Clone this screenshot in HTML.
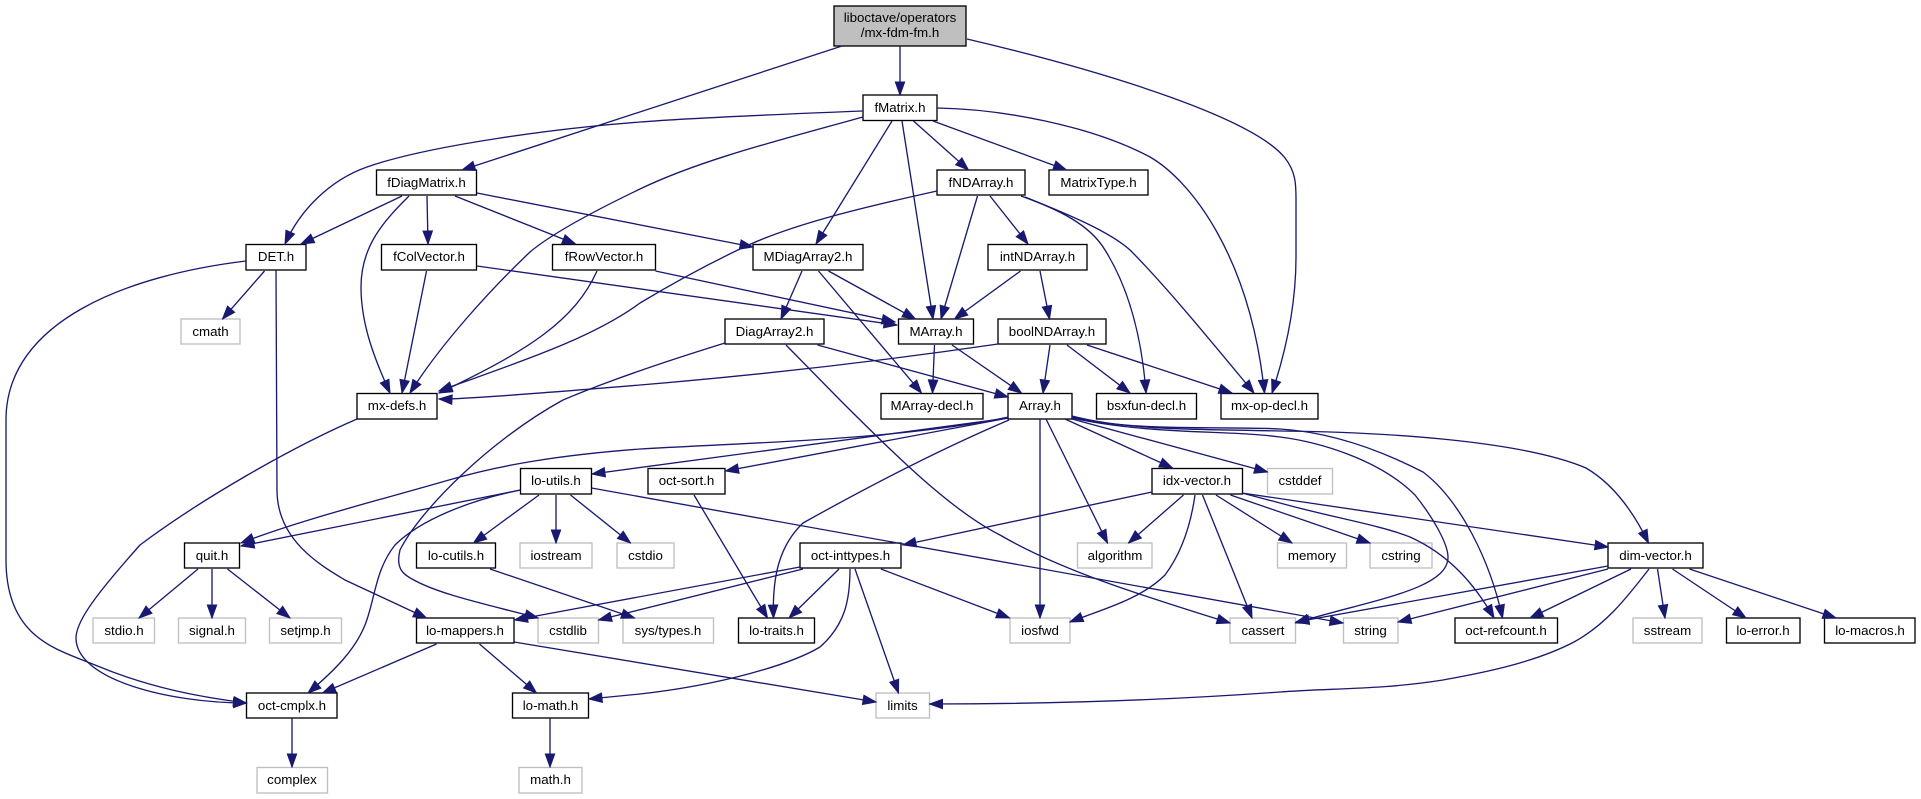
<!DOCTYPE html>
<html><head><meta charset="utf-8"><style>
html,body{margin:0;padding:0;background:#fff;width:1921px;height:799px;overflow:hidden}
svg{display:block}
text{font-family:"Liberation Sans",sans-serif;font-size:13.33px;text-anchor:middle;fill:#000}
.n rect{fill:#fff;stroke:#000;stroke-width:1.33}
.g rect{fill:#fff;stroke:#bfbfbf;stroke-width:1.33}
.e path{fill:none;stroke:#191970;stroke-width:1.33;marker-end:url(#a)}
</style></head><body>
<svg width="1921" height="799" viewBox="0 0 1921 799" xmlns="http://www.w3.org/2000/svg">
<defs><marker id="a" markerUnits="userSpaceOnUse" markerWidth="15" markerHeight="11" refX="14" refY="5.5" orient="auto"><path d="M1,0.8L14,5.5L1,10.2z" fill="#191970" stroke="#191970" stroke-width="1"/></marker></defs>
<g class="n">
<rect x="834" y="6" width="132" height="40" style="fill:#bfbfbf"/>
<text x="900" y="22">liboctave/operators</text><text x="900" y="37">/mx-fdm-fm.h</text>
<rect x="863" y="95" width="74" height="25.5"/><text x="900" y="112">fMatrix.h</text>
<rect x="376.500" y="170" width="100" height="25"/><text x="426.500" y="187">fDiagMatrix.h</text>
<rect x="937" y="170" width="88" height="25"/><text x="981" y="187">fNDArray.h</text>
<rect x="1049" y="170" width="99" height="25"/><text x="1098.500" y="187">MatrixType.h</text>
<rect x="246" y="244.500" width="60" height="25.500"/><text x="276" y="261">DET.h</text>
<rect x="381.500" y="244.500" width="95" height="25.500"/><text x="429" y="261">fColVector.h</text>
<rect x="552.500" y="244.500" width="103" height="25.500"/><text x="604" y="261">fRowVector.h</text>
<rect x="753" y="244.500" width="110" height="25.500"/><text x="808" y="261">MDiagArray2.h</text>
<rect x="988" y="244.500" width="99" height="25.500"/><text x="1037.500" y="261">intNDArray.h</text>
<rect x="725" y="319" width="99" height="25"/><text x="774.500" y="336">DiagArray2.h</text>
<rect x="898.500" y="319" width="75" height="25"/><text x="936" y="336">MArray.h</text>
<rect x="998" y="319" width="108" height="25"/><text x="1052" y="336">boolNDArray.h</text>
<rect x="357" y="393.500" width="80" height="25.500"/><text x="397" y="410">mx-defs.h</text>
<rect x="881" y="393.500" width="102" height="25.500"/><text x="932" y="410">MArray-decl.h</text>
<rect x="1008" y="393.500" width="64" height="25.500"/><text x="1040" y="410">Array.h</text>
<rect x="1096.500" y="393.500" width="100" height="25.500"/><text x="1146.500" y="410">bsxfun-decl.h</text>
<rect x="1221" y="393.500" width="97" height="25.500"/><text x="1269.500" y="410">mx-op-decl.h</text>
<rect x="520.500" y="468.500" width="71" height="25.500"/><text x="556" y="485">lo-utils.h</text>
<rect x="648" y="468.500" width="77" height="25.500"/><text x="686.500" y="485">oct-sort.h</text>
<rect x="1152" y="468.500" width="90.500" height="25.500"/><text x="1197" y="485">idx-vector.h</text>
<rect x="184.500" y="543" width="55" height="25"/><text x="212" y="560">quit.h</text>
<rect x="416.500" y="543" width="79" height="25"/><text x="456" y="560">lo-cutils.h</text>
<rect x="800" y="543" width="101" height="25"/><text x="850.500" y="560">oct-inttypes.h</text>
<rect x="1608" y="543" width="95" height="25"/><text x="1655.500" y="560">dim-vector.h</text>
<rect x="416.500" y="618" width="97.500" height="25"/><text x="465" y="635">lo-mappers.h</text>
<rect x="738.500" y="618" width="76" height="25"/><text x="776.500" y="635">lo-traits.h</text>
<rect x="1455" y="618" width="102.500" height="25"/><text x="1506" y="635">oct-refcount.h</text>
<rect x="1726.500" y="618" width="73.500" height="25"/><text x="1763" y="635">lo-error.h</text>
<rect x="1824.500" y="618" width="90.500" height="25"/><text x="1870" y="635">lo-macros.h</text>
<rect x="246.500" y="693" width="90.500" height="25"/><text x="292" y="710">oct-cmplx.h</text>
<rect x="512.500" y="693" width="76" height="25"/><text x="550.500" y="710">lo-math.h</text>
</g>
<g class="g">
<rect x="181" y="319" width="59" height="25"/><text x="210.500" y="336">cmath</text>
<rect x="1267.500" y="468.500" width="65" height="25.500"/><text x="1300" y="485">cstddef</text>
<rect x="520" y="543" width="72" height="25"/><text x="556" y="560">iostream</text>
<rect x="617" y="543" width="57" height="25"/><text x="645.500" y="560">cstdio</text>
<rect x="1077.500" y="543" width="74.500" height="25"/><text x="1115" y="560">algorithm</text>
<rect x="1277.500" y="543" width="69" height="25"/><text x="1312" y="560">memory</text>
<rect x="1370" y="543" width="62" height="25"/><text x="1401" y="560">cstring</text>
<rect x="93" y="618" width="61.500" height="25"/><text x="124" y="635">stdio.h</text>
<rect x="178.500" y="618" width="67" height="25"/><text x="212" y="635">signal.h</text>
<rect x="269.500" y="618" width="72" height="25"/><text x="305.500" y="635">setjmp.h</text>
<rect x="538" y="618" width="60.500" height="25"/><text x="568" y="635">cstdlib</text>
<rect x="623" y="618" width="90.500" height="25"/><text x="668" y="635">sys/types.h</text>
<rect x="1010" y="618" width="60" height="25"/><text x="1040" y="635">iosfwd</text>
<rect x="1230" y="618" width="65.500" height="25"/><text x="1263" y="635">cassert</text>
<rect x="1343.500" y="618" width="54.500" height="25"/><text x="1370.500" y="635">string</text>
<rect x="1633" y="618" width="69" height="25"/><text x="1667.500" y="635">sstream</text>
<rect x="876" y="693" width="53.500" height="25"/><text x="902.500" y="710">limits</text>
<rect x="257" y="767.500" width="70.500" height="25.500"/><text x="292" y="784">complex</text>
<rect x="519" y="767.500" width="63" height="25.500"/><text x="550.500" y="784">math.h</text>
</g>
<g class="e">
<path d="M842,46L462,170"/>
<path d="M900,46L900,95"/>
<path d="M967,39C1120,75 1255,120 1285,158C1296,172 1296,185 1296,200L1296,257C1296,300 1288,345 1272,393"/>
<path d="M863,111C760,115 690,118 640,122C560,128 430,145 367,167C330,180 300,210 285,244"/>
<path d="M863,117C780,140 700,160 640,189C590,213 550,235 530,252C490,290 440,345 410,393"/>
<path d="M892,121L816,244"/>
<path d="M902,121L933,319"/>
<path d="M913.500,121L968.500,170"/>
<path d="M933,121L1066.500,170"/>
<path d="M937,108C1000,109 1090,125 1150,157C1190,180 1250,255 1264.500,393"/>
<path d="M402,196L301,244"/>
<path d="M409,196C385,220 361,245 361,287C361,325 375,360 390,393"/>
<path d="M427,196L428,244"/>
<path d="M455,196L575.500,244"/>
<path d="M477,193L753,247"/>
<path d="M246,261C130,275 6,320 6,420L6,560C6,640 60,650 95,665C150,688 200,697 246.500,703"/>
<path d="M264.500,271L222.500,319"/>
<path d="M276,270L277,490C277,540 320,565 345,580L426.500,618"/>
<path d="M426.500,271L402,393"/>
<path d="M477,266L897,325"/>
<path d="M597,271C575,320 530,350 439,393"/>
<path d="M655.500,271L895,322"/>
<path d="M802,271L781,319"/>
<path d="M828.500,271L915.500,319"/>
<path d="M818.500,271L921.500,393"/>
<path d="M937,191C860,208 790,225 742,248C700,268 670,285 640,303C590,340 510,365 439,391"/>
<path d="M977.500,196L941,319"/>
<path d="M990,196L1028,244"/>
<path d="M1021,196C1060,210 1090,225 1105,250C1130,290 1142,340 1146,393"/>
<path d="M1025,197C1070,215 1110,232 1130,250C1165,285 1210,340 1254,393"/>
<path d="M1020.500,271L954.500,319"/>
<path d="M1040,271L1049.500,319"/>
<path d="M998,344Q820,370 640,385T439,399"/>
<path d="M1050,345L1043,393"/>
<path d="M1067,345L1130,393"/>
<path d="M1087,345L1232,393"/>
<path d="M817.500,345L1008,397"/>
<path d="M725,343C670,360 610,380 563,400C490,440 420,510 400,550C395,570 405,575 412,579C440,595 490,605 538,618"/>
<path d="M786,345L840,400C890,450 950,510 1000,535C1060,570 1140,595 1230,623"/>
<path d="M934.500,345L932.500,393"/>
<path d="M952,345L1021.500,393"/>
<path d="M357,419C290,448 200,500 140,545C100,590 76,620 76,638C76,680 170,703 246.500,703"/>
<path d="M1008.500,418L592,474"/>
<path d="M1008.500,417C900,440 740,443 640,449C560,455 500,465 449,480C380,500 300,520 241,543"/>
<path d="M1008.500,418L725.500,471"/>
<path d="M1009,420C950,445 880,480 803,523C780,545 772,575 773.500,618"/>
<path d="M1040,419L1040,618"/>
<path d="M1046,419L1107.500,543"/>
<path d="M1065,419L1172.500,468"/>
<path d="M1072,419L1267.500,472"/>
<path d="M1072,418C1150,435 1230,430 1280,437C1320,442 1380,460 1415,495C1435,520 1448,545 1448,557C1448,590 1370,600 1295.500,623"/>
<path d="M1072,417C1130,432 1230,426 1280,429C1330,432 1380,450 1423,472C1460,500 1490,560 1502.500,618"/>
<path d="M1072,416C1130,431 1200,429 1280,431C1380,432 1520,440 1586,468C1615,485 1635,515 1648.500,543"/>
<path d="M520.500,490L241,546"/>
<path d="M520.500,490C470,500 420,520 395,545C375,570 375,600 365,625C355,650 335,670 308,693"/>
<path d="M539,495L473.500,543"/>
<path d="M556,495L556,543"/>
<path d="M570.500,495L630.500,543"/>
<path d="M591.500,488L1343,623"/>
<path d="M198,569L139,618"/>
<path d="M212,569L212,618"/>
<path d="M227.500,569L290,618"/>
<path d="M490,569L634.500,618"/>
<path d="M436.500,644L322.500,693"/>
<path d="M479.500,644L536.500,693"/>
<path d="M514,642L876,702"/>
<path d="M292,718L292,767"/>
<path d="M550,718L550,767"/>
<path d="M694,495L767.500,618"/>
<path d="M800,567L514.500,620"/>
<path d="M803,569L598.500,620"/>
<path d="M839,569L789,618"/>
<path d="M881,569L1009.500,618"/>
<path d="M855,569L898.500,693"/>
<path d="M850,569C850,600 845,625 820,647C790,665 720,685 640,694L589,699"/>
<path d="M1152,492L903,545"/>
<path d="M1183.500,495L1128.500,543"/>
<path d="M1195,495C1190,530 1180,555 1165,575C1140,600 1100,610 1070,622"/>
<path d="M1202.500,495L1252,618"/>
<path d="M1216,495L1292,543"/>
<path d="M1230.500,495L1370,543"/>
<path d="M1242,493L1280,503C1330,517 1380,525 1410,537C1450,555 1475,585 1494,618"/>
<path d="M1242,493L1608,547"/>
<path d="M1608,566L1296,622"/>
<path d="M1608,569L1398,622"/>
<path d="M1631,569L1530,618"/>
<path d="M1649,569C1625,600 1605,625 1574,642C1530,665 1470,675 1443,680C1380,690 1330,688 1280,692C1170,700 1050,704 929.500,704"/>
<path d="M1657.500,569L1665,618"/>
<path d="M1672.500,569L1746,618"/>
<path d="M1689.500,569L1836,618"/>
</g>
</svg>
</body></html>
